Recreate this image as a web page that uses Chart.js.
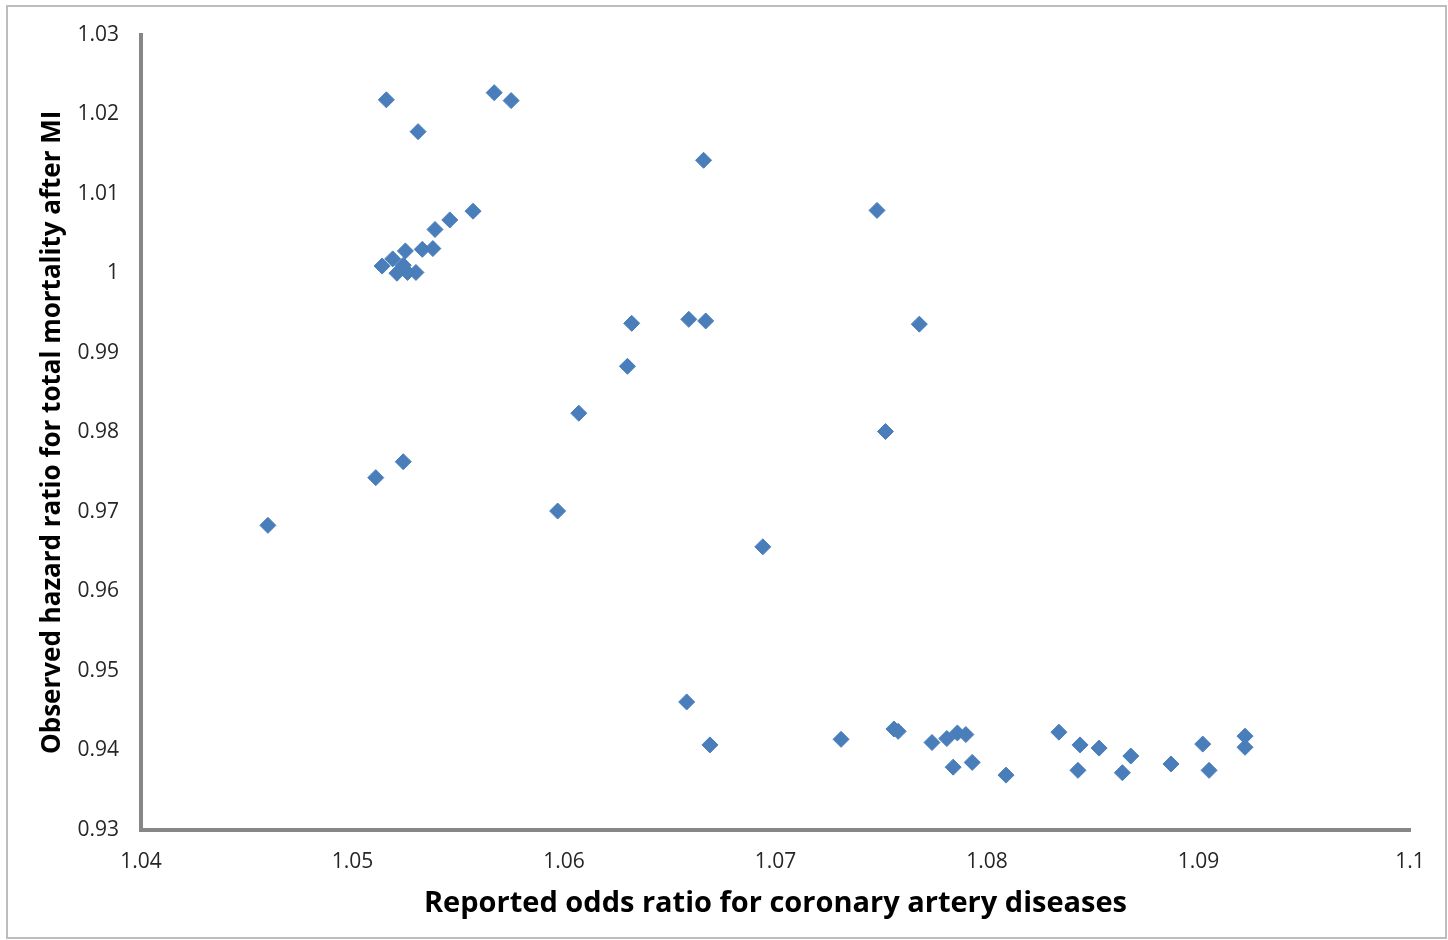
<!DOCTYPE html>
<html>
<head>
<meta charset="utf-8">
<script src="https://cdn.jsdelivr.net/npm/chart.js@4.4.1/dist/chart.umd.min.js"></script>
<style>
  html, body { margin: 0; padding: 0; background: #fff; }
  #wrap { width: 1448px; height: 940px; }
</style>
</head>
<body>
<div id="wrap"><canvas id="myScatter" width="1448" height="940"></canvas></div>
<script>
// Nilai
const oddsRatio = [
    1.0460, 1.0511, 1.0524, 1.0516, 1.0531, 1.0567, 1.0575,
    1.0514, 1.0519, 1.0521, 1.0524, 1.0525, 1.0526, 1.0530,
    1.0533, 1.0538, 1.0539, 1.0546, 1.0557,
    1.0597, 1.0607, 1.0630, 1.0632, 1.0659, 1.0667, 1.0666,
    1.0658, 1.0669, 1.0694, 1.0731, 1.0748, 1.0752, 1.0768,
    1.0756, 1.0758, 1.0774, 1.0781, 1.0786, 1.0790, 1.0784,
    1.0793, 1.0809, 1.0834, 1.0843, 1.0844, 1.0853, 1.0864,
    1.0868, 1.0887, 1.0902, 1.0905, 1.0922, 1.0922
];
const hazardRatio = [
    0.9683, 0.9743, 0.9763, 1.0218, 1.0178, 1.0227, 1.0217,
    1.0009, 1.0018, 1.0000, 1.0010, 1.0028, 1.0001, 1.0001,
    1.0030, 1.0031, 1.0055, 1.0067, 1.0078,
    0.9701, 0.9824, 0.9883, 0.9937, 0.9942, 0.9940, 1.0142,
    0.9461, 0.9407, 0.9656, 0.9414, 1.0079, 0.9801, 0.9936,
    0.9427, 0.9424, 0.9410, 0.9415, 0.9422, 0.9420, 0.9379,
    0.9385, 0.9369, 0.9423, 0.9375, 0.9407, 0.9403, 0.9372,
    0.9393, 0.9383, 0.9408, 0.9375, 0.9418, 0.9404
];
const xTicks = [1.04, 1.05, 1.06, 1.07, 1.08, 1.09, 1.1];
const yTicks = [0.93, 0.94, 0.95, 0.96, 0.97, 0.98, 0.99, 1, 1.01, 1.02, 1.03];

const points = oddsRatio.map((x, i) => ({ x: x, y: hazardRatio[i] }));

// Bingkai abu-abu di sekeliling gambar
const framePlugin = {
    id: "frame",
    beforeDraw(chart) {
        const c = chart.ctx;
        c.save();
        c.fillStyle = "#fff";
        c.fillRect(0, 0, chart.width, chart.height);
        c.strokeStyle = "#bdbdbd";
        c.lineWidth = 2;
        c.strokeRect(7, 6, 1439, 932);
        c.restore();
    }
};

const axisColor = "#878787";
const tickFont = { family: "'Open Sans'", size: 21 };

new Chart(document.getElementById("myScatter").getContext("2d"), {
    type: "scatter",
    data: {
        datasets: [{
            data: points,
            pointStyle: "rectRot",
            pointRadius: 8,
            pointHoverRadius: 8,
            backgroundColor: "#4a7ebb",
            borderColor: "#4a7ebb",
            borderWidth: 1
        }]
    },
    plugins: [framePlugin],
    options: {
        responsive: false,
        animation: false,
        events: [],
        layout: { padding: { left: 0, right: 38, top: 29, bottom: 0 } },
        plugins: { legend: { display: false }, tooltip: { enabled: false } },
        scales: {
            x: {
                type: "linear",
                min: 1.04,
                max: 1.1,
                afterBuildTicks: s => { s.ticks = xTicks.map(v => ({ value: v })); },
                afterFit: s => { s.height = 110; },
                grid: { display: false, drawTicks: false },
                border: { display: true, color: axisColor, width: 4 },
                ticks: {
                    color: "#262626",
                    font: tickFont,
                    padding: 19,
                    maxRotation: 0,
                    callback: v => String(Math.round(v * 100) / 100)
                },
                title: {
                    display: true,
                    text: "Reported odds ratio for coronary artery diseases",
                    color: "#000",
                    font: { family: "'Open Sans'", size: 29, weight: "bold" },
                    padding: { top: 0, bottom: 19 }
                }
            },
            y: {
                type: "linear",
                min: 0.93,
                max: 1.03,
                afterBuildTicks: s => { s.ticks = yTicks.map(v => ({ value: v })); },
                afterFit: s => { s.width = 141; },
                grid: { display: false, drawTicks: false },
                border: { display: true, color: axisColor, width: 4 },
                ticks: {
                    color: "#262626",
                    font: tickFont,
                    padding: 22,
                    callback: v => String(Math.round(v * 100) / 100)
                },
                title: {
                    display: true,
                    text: "Observed hazard ratio for total mortality after MI",
                    color: "#000",
                    font: { family: "'Open Sans'", size: 26, weight: "bold" },
                    padding: { top: 37, bottom: 0 }
                }
            }
        }
    }
});
</script>
</body>
</html>
